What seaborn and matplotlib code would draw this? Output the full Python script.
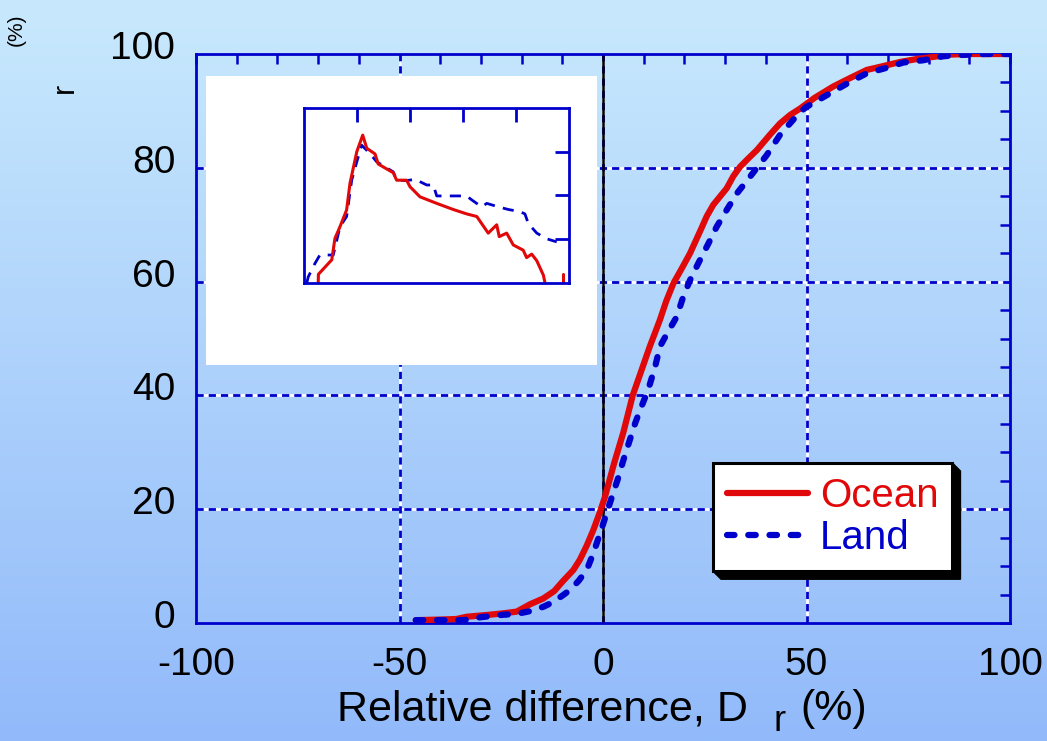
import numpy as np
import matplotlib
matplotlib.use("Agg")
import matplotlib.pyplot as plt
import matplotlib.transforms as mtransforms
from matplotlib.patches import Rectangle, Polygon
from matplotlib.ticker import MultipleLocator
import seaborn as sns

# ---- cumulative distributions (%) ----
ocean_x = [-46, -40, -36, -33.5, -28.6, -24.5, -21.2, -17.9, -14.7, -12, -9.8, -7.3,
           -5.7, -4, -2.4, -0.8, 0.5, 2.7, 5.0, 7.3, 9.5, 11.5, 14.0, 15.5, 17.3,
           19.5, 21.4, 24.2, 25.5, 27.1, 30.4, 32.0, 33.7, 35.5, 37.8, 41.0, 43.5,
           46.0, 48.4, 52.0, 56.6, 60.5, 64.8, 69.0, 73.0, 77.0, 81.2, 85.3, 90.0, 100]
ocean_cdf = [0.5, 0.6, 0.7, 1.1, 1.4, 1.7, 2.0, 3.3, 4.3, 5.6, 7.4, 9.3,
             11.1, 13.6, 16.3, 19.4, 22.2, 28.0, 33.5, 40.0, 44.5, 48.6, 53.3, 56.5, 59.7,
             62.5, 65.0, 69.4, 71.5, 73.5, 76.4, 78.5, 80.2, 81.5, 83.1, 85.8, 87.8,
             89.3, 90.4, 92.3, 94.3, 95.7, 97.2, 97.9, 98.6, 99.1, 99.5, 99.9, 100.0, 100.0]

land_x = [-46, -39.2, -34.3, -30.2, -25.3, -21.2, -17.1, -14.5, -12.2, -10.0, -8.1, -6,
          -4.0, -2.3, -0.7, 0.9, 2.3, 3.6, 5.0, 6.6, 7.9, 9.1, 11.1, 12.8, 14.0, 16.0,
          18.1, 19.7, 21.4, 23.4, 25.9, 27.9, 30.4, 32.9, 36.1, 40.2, 43.5, 48.4, 50,
          55.8, 60.7, 64.8, 69.3, 73.8, 78.7, 83.6, 86.9, 94, 100]
land_cdf = [0.5, 0.5, 0.5, 1.0, 1.4, 1.6, 2.2, 2.9, 3.7, 4.8, 5.8, 7.4,
            9.3, 12.4, 15.8, 19.3, 22.4, 25.2, 28.6, 32.2, 35.1, 37.4, 41.0, 45.0, 48.6, 51.2,
            53.8, 57.3, 60.3, 63.2, 66.7, 69.6, 72.6, 75.5, 78.4, 82.2, 85.8, 89.8, 90.7,
            93.1, 95.1, 96.6, 97.5, 98.5, 98.9, 99.6, 99.8, 100.0, 100.0]

# ---- frequency distributions shown in the inset (%) ----
inset_ocean_x = [-18.3, -18.2, -11.9, -10.4, -8.0, -4.9, -3.3, -0.1, 2.7, 4.6, 8.5, 10.0,
                 17.1, 18.7, 23.4, 25.0, 29.7, 37.6, 45.4, 51.7, 56.5, 61.9, 65.9, 67.1,
                 70.6, 73.7, 78.4, 80.0, 82.4, 84.8, 87.9, 88.7]
inset_ocean_pdf = [0.0, 0.2, 0.53, 1.02, 1.29, 1.67, 2.28, 3.0, 3.38, 3.08, 2.95, 2.72,
                   2.52, 2.35, 2.35, 2.20, 1.97, 1.82, 1.68, 1.58, 1.52, 1.14, 1.33, 1.06,
                   1.14, 0.87, 0.75, 0.58, 0.66, 0.51, 0.18, 0.0]
inset_ocean_tail_x = [97.3, 97.3]
inset_ocean_tail_pdf = [0.0, 0.2]

inset_land_x = [-23.7, -23.0, -19.8, -17.5, -11.2, -8.0, -4.9, -2.5, -0.1, 2.2, 6.1, 9.3,
                17.1, 18.7, 23.4, 27.4, 32.9, 36.0, 37.6, 46.2, 51.7, 54.1, 58.8, 61.2,
                66.7, 71.4, 76.9, 79.2, 80.8, 84.8, 89.5, 94.2]
inset_land_pdf = [0.0, 0.14, 0.45, 0.64, 0.64, 1.29, 1.52, 2.35, 2.77, 3.15, 2.96, 2.77,
                  2.54, 2.35, 2.34, 2.37, 2.24, 2.24, 1.99, 1.99, 1.99, 1.90, 1.74, 1.82,
                  1.74, 1.68, 1.63, 1.58, 1.36, 1.14, 1.01, 0.94]

series_labels = ["Ocean", "Land"]
x_ticks = [-100, -50, 0, 50, 100]
y_ticks = [0, 20, 40, 60, 80, 100]
x_grid = [-50, 0, 50]
y_grid = [20, 40, 60, 80]

RED = "#e00808"
BLUE = "#0000cc"
W, H, DPI = 1047, 741, 100

sns.set_theme(style="white")
plt.rcParams["font.family"] = ["Liberation Sans", "DejaVu Sans"]
plt.rcParams["text.color"] = "black"
plt.rcParams["xtick.labelcolor"] = "black"
plt.rcParams["ytick.labelcolor"] = "black"

fig = plt.figure(figsize=(W / DPI, H / DPI), dpi=DPI)

# vertical colour gradient behind everything
bg = fig.add_axes([0, 0, 1, 1], zorder=-10)
top_c = np.array([200, 233, 253]) / 255.0
bot_c = np.array([146, 186, 250]) / 255.0
t = np.linspace(0, 1, 256)[:, None, None]
grad = (1 - t) * top_c + t * bot_c
bg.imshow(grad, aspect="auto", extent=[0, 1, 0, 1])
bg.axis("off")

# ---- main axes ----
ax = fig.add_axes([196 / W, (H - 623) / H, 814 / W, 569 / H])
ax.patch.set_alpha(0)

for v in x_grid:
    ax.axvline(v, color="white", lw=2.0, zorder=0.6)
    ax.axvline(v, color=BLUE, lw=2.0, dashes=(2.6, 1.8), zorder=0.7)
for v in y_grid:
    ax.axhline(v, color="white", lw=2.0, zorder=0.6)
    ax.axhline(v, color=BLUE, lw=2.0, dashes=(2.6, 1.8), zorder=0.7)

# white panel holding the inset
ax.add_patch(Rectangle((206 / W, 1 - 365 / H), (597 - 206) / W, (365 - 76) / H,
                       transform=fig.transFigure, facecolor="white",
                       edgecolor="none", zorder=1, clip_on=False))

ax.axvline(0, color="black", lw=1.8, zorder=1.5)

sns.lineplot(x=ocean_x, y=ocean_cdf, ax=ax, color=RED, lw=4.5, sort=False,
             estimator=None, label=series_labels[0], zorder=3)
sns.lineplot(x=land_x, y=land_cdf, ax=ax, color=BLUE, lw=4.5, sort=False,
             estimator=None, label=series_labels[1], zorder=3.1)
land_line = ax.lines[-1]
land_line.set_dashes((1.2, 2.2))
land_line.set_dash_capstyle("round")
ax.lines[-2].set_solid_capstyle("round")

ax.set_xlim(-100, 100)
ax.set_ylim(0, 100)
ax.set_xticks(x_ticks)
ax.set_yticks(y_ticks)
ax.set_xticklabels([str(v) for v in x_ticks])
ax.set_yticklabels([str(v) for v in y_ticks])
ax.xaxis.set_minor_locator(MultipleLocator(10))
ax.yaxis.set_minor_locator(MultipleLocator(5))
ax.tick_params(which="both", direction="in", top=True, right=True,
               color=BLUE, width=1.8, length=7)
ax.tick_params(axis="x", which="major", labelsize=28, pad=17, labelcolor="black")
ax.tick_params(axis="y", which="major", labelsize=28, pad=15, labelcolor="black")
ax.set_xlabel("")
ax.set_ylabel("")
for sp in ax.spines.values():
    sp.set_color(BLUE)
    sp.set_linewidth(2.0)
    sp.set_visible(True)

lift = mtransforms.ScaledTranslation(0, 0.09, fig.dpi_scale_trans)
for lab in ax.get_yticklabels():
    lab.set_transform(lab.get_transform() + lift)

# legend with an extruded black shadow
handles, labels = ax.get_legend_handles_labels()
leg = ax.legend(handles, labels, loc="upper left",
                bbox_to_anchor=(713 / W, 1 - 463 / H), bbox_transform=fig.transFigure,
                frameon=True, fancybox=False, edgecolor="black", facecolor="white",
                framealpha=1, fontsize=29, handlelength=2.0, handletextpad=0.3,
                borderpad=0.35, labelspacing=0.1, borderaxespad=0,
                labelcolor="linecolor")
leg.get_frame().set_linewidth(2.2)
leg.set_zorder(10)

# ---- inset ----
ins = fig.add_axes([304 / W, 1 - 283 / H, 265 / W, 175 / H])
ins.set_facecolor("white")
sns.lineplot(x=inset_land_x, y=inset_land_pdf, ax=ins, color=BLUE, lw=2.0,
             sort=False, estimator=None)
ins.lines[-1].set_dashes((4.0, 3.0))
sns.lineplot(x=inset_ocean_x, y=inset_ocean_pdf, ax=ins, color=RED, lw=2.2,
             sort=False, estimator=None)
sns.lineplot(x=inset_ocean_tail_x, y=inset_ocean_tail_pdf, ax=ins, color=RED,
             lw=2.2, sort=False, estimator=None)
ins.set_xlim(-25, 100)
ins.set_ylim(0, 4)
ins.set_xticks([0, 25, 50, 75])
ins.set_yticks([1, 2, 3])
ins.tick_params(which="both", direction="in", top=True, right=True, color=BLUE,
                width=2.0, length=10, labelbottom=False, labelleft=False)
for sp in ins.spines.values():
    sp.set_color(BLUE)
    sp.set_linewidth(2.0)
    sp.set_visible(True)

# axis titles
fig.text(337 / W, 1 - 720 / H, "Relative difference, D", fontsize=31,
         ha="left", va="baseline")
fig.text(773 / W, 2 / H, "r", fontsize=26, ha="left", va="bottom")
fig.text(800 / W, 1 - 720 / H, "(%)", fontsize=31, ha="left", va="baseline")
fig.text(73 / W, 1 - 88 / H, "r", fontsize=22, rotation=90,
         rotation_mode="anchor", ha="center", va="baseline")
fig.text(22 / W, 1 - 30 / H, "(%)", fontsize=15, rotation=90,
         rotation_mode="anchor", ha="center", va="baseline")

fig.canvas.draw()
bb = leg.get_frame().get_window_extent()
L, B, R, T = bb.x0, bb.y0, bb.x1, bb.y1
d = 8
pts = [(R, T), (R + d, T - d), (R + d, B - d), (L + d, B - d), (L, B), (R, B)]
fig.add_artist(Polygon([(x / W, y / H) for x, y in pts], closed=True,
                       transform=fig.transFigure, facecolor="black",
                       edgecolor="black", lw=1, zorder=5))

fig.savefig("out.png", dpi=DPI)
